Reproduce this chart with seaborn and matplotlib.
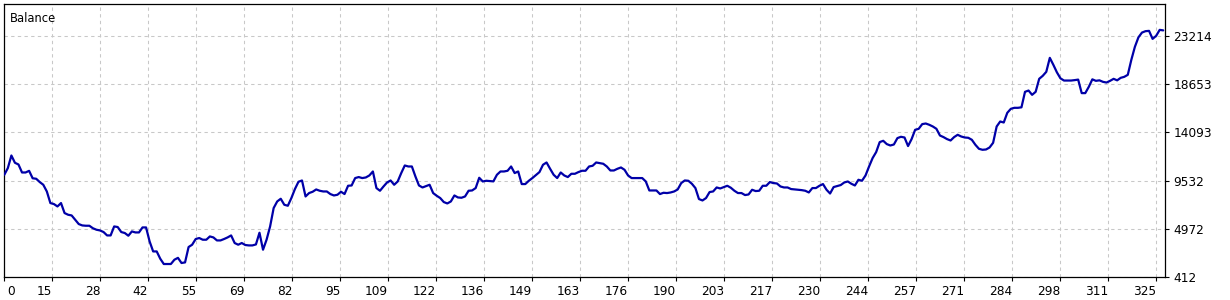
import matplotlib
matplotlib.use("Agg")
import matplotlib.pyplot as plt
import matplotlib.transforms as mtransforms
import pandas as pd
import seaborn as sns

# ---- data ----
balance = [
    10077, 10711, 11905, 11214, 11052, 10294, 10294, 10450, 9745, 9698,
    9385, 9129, 8494, 7395, 7300, 7073, 7395, 6448, 6287, 6220,
    5813, 5405, 5273, 5244, 5244, 5007, 4865, 4799, 4647, 4325,
    4325, 5178, 5121, 4647, 4553, 4297, 4704, 4609, 4609, 5083,
    5083, 3757, 2809, 2809, 2118, 1615, 1615, 1615, 2023, 2200,
    1710, 1767, 3226, 3444, 3984, 4079, 3918, 3918, 4230, 4136,
    3851, 3851, 3984, 4136, 4325, 3605, 3444, 3605, 3416, 3378,
    3378, 3472, 4581, 2970, 3918, 5178, 6921, 7547, 7803, 7234,
    7139, 7869, 8722, 9413, 9536, 8020, 8343, 8466, 8684, 8561,
    8494, 8494, 8248, 8115, 8182, 8466, 8248, 9034, 9062, 9764,
    9859, 9764, 9821, 10010, 10389, 8816, 8561, 8968, 9347, 9536,
    9129, 9442, 10238, 10958, 10863, 10863, 9915, 9062, 8873, 9006,
    9129, 8343, 8087, 7869, 7490, 7357, 7547, 8115, 7926, 7897,
    8020, 8561, 8589, 8816, 9792, 9442, 9508, 9475, 9450, 10077,
    10389, 10389, 10456, 10863, 10238, 10389, 9195, 9195, 9508, 9764,
    10048, 10332, 11024, 11242, 10645, 10077, 9764, 10294, 10010, 9859,
    10171, 10171, 10332, 10456, 10456, 10863, 10929, 11242, 11185, 11119,
    10863, 10484, 10484, 10645, 10768, 10550, 10010, 9764, 9764, 9764,
    9764, 9442, 8589, 8589, 8589, 8248, 8370, 8343, 8399, 8494,
    8684, 9290, 9536, 9508, 9224, 8816, 7774, 7641, 7869, 8437,
    8494, 8873, 8778, 8911, 9034, 8845, 8561, 8343, 8343, 8153,
    8210, 8655, 8532, 8561, 9034, 9034, 9385, 9290, 9252, 8968,
    8873, 8873, 8722, 8684, 8655, 8620, 8561, 8399, 8816, 8816,
    9034, 9195, 8655, 8300, 8911, 9006, 9101, 9347, 9442, 9224,
    9062, 9603, 9508, 10010, 10863, 11659, 12227, 13175, 13298, 12985,
    12853, 12947, 13554, 13677, 13611, 12800, 13459, 14340, 14435, 14880,
    14937, 14814, 14653, 14435, 13800, 13649, 13459, 13326, 13649, 13867,
    13705, 13611, 13582, 13393, 12919, 12540, 12445, 12475, 12663, 13108,
    14653, 15127, 15032, 15951, 16330, 16425, 16425, 16472, 17941, 18064,
    17656, 17941, 19173, 19457, 19836, 21162, 20499, 19788, 19220, 19011,
    19011, 19011, 19050, 19100, 17818, 17818, 18415, 19125, 18983, 19030,
    18888, 18822, 18983, 19173, 19030, 19267, 19362, 19552, 20973, 22205,
    23105, 23559, 23692, 23721, 22963, 23247, 23815, 23768,
]
trades = list(range(len(balance)))

x_tick_labels = ["0", "15", "28", "42", "55", "69", "82", "95", "109", "122",
                 "136", "149", "163", "176", "190", "203", "217", "230", "244",
                 "257", "271", "284", "298", "311", "325"]
y_ticks = [412, 4972, 9532, 14093, 18653, 23214]
title_text = "Balance"

# ---- styling ----
sns.set_style("white")
plt.rcParams["font.family"] = ["DejaVu Sans"]

W, H = 1230, 300
fig = plt.figure(figsize=(W / 100, H / 100), dpi=100)
left, right, top, bottom = 4.3, 1165.0, 4.3, 276.7
ax = fig.add_axes([left / W, (H - bottom) / H, (right - left) / W, (bottom - top) / H])

df = pd.DataFrame({"trade": trades, "balance": balance})
sns.lineplot(data=df, x="trade", y="balance", ax=ax, color="#0000a8",
             linewidth=1.6, zorder=3)

ax.set_xlim(0, 327.5)
ax.set_ylim(412, 26240)

xt = [k * 325 / 24 for k in range(len(x_tick_labels))]
ax.set_xticks(xt)
ax.set_xticklabels(x_tick_labels)
ax.yaxis.tick_right()
ax.set_yticks(y_ticks)
ax.set_yticklabels([str(v) for v in y_ticks])

ax.set_xlabel("")
ax.set_ylabel("")

ax.grid(True, color="#c8c8c8", linestyle=(0, (3.2, 3.2)), linewidth=0.75, zorder=1)
ax.set_axisbelow(True)

ax.tick_params(axis="x", direction="out", length=3, width=0.8, colors="black",
               labelsize=8.7, pad=3, bottom=True)
ax.tick_params(axis="y", direction="out", length=3, width=0.8, colors="black",
               labelsize=8.7, pad=3, right=True, left=False)

for lab in ax.get_xticklabels():
    lab.set_ha("right")
first = ax.get_xticklabels()[0]
first.set_ha("left")
first.set_transform(first.get_transform() +
                    mtransforms.ScaledTranslation(3 / 100, 0, fig.dpi_scale_trans))

for s in ax.spines.values():
    s.set_visible(True)
    s.set_color("black")
    s.set_linewidth(0.9)

fig.text(10 / W, 1 - 21.7 / H, title_text, fontsize=8.3, color="black",
         va="baseline", ha="left")

fig.savefig("out.png", dpi=100, facecolor="white")
